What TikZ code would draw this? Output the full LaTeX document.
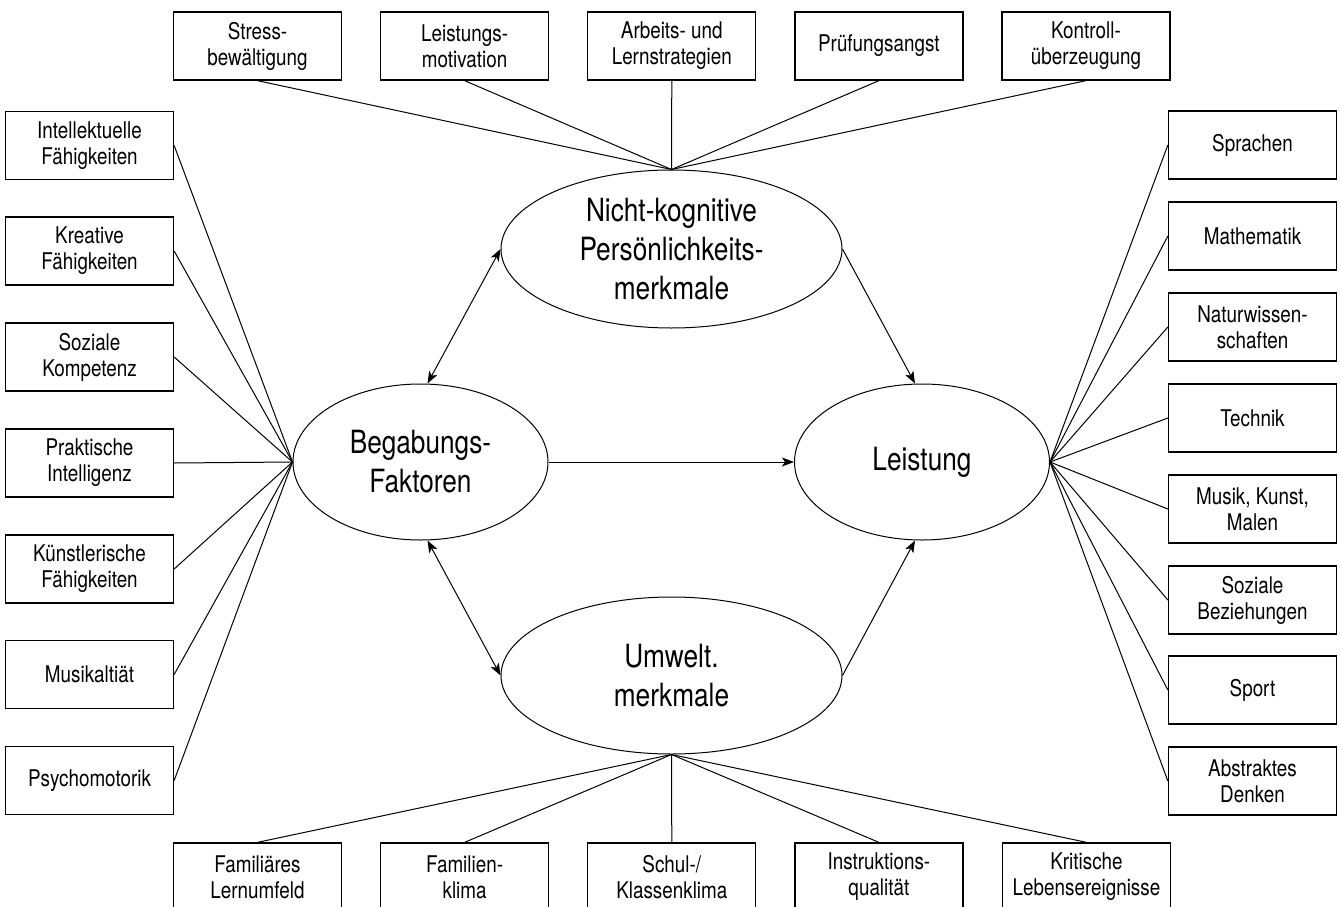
\documentclass[tikz,border=0pt]{standalone}
\usepackage{fontspec}
\setmainfont[FakeStretch=0.82]{TeX Gyre Heros}
\usetikzlibrary{shapes.geometric,arrows.meta}
\begin{document}
\begin{tikzpicture}[x=1pt,y=-1pt,
        box/.style={draw,line width=1.3pt,minimum width=168pt,minimum height=68pt,inner sep=0pt,align=center,font=\fontsize{23}{26}\selectfont},
        oval/.style={draw,ellipse,line width=1pt,inner sep=0pt,align=center,font=\fontsize{32}{39}\selectfont},
        link/.style={line width=1pt},
        pfeil/.style={line width=1pt,-{Stealth[length=12pt,width=9pt,inset=3pt]}},
        doppelpfeil/.style={line width=1pt,{Stealth[length=12pt,width=9pt,inset=3pt]}-{Stealth[length=12pt,width=9pt,inset=3pt]}}]
    \path[use as bounding box,fill=white] (0,0) rectangle (1341,907);
    \node[oval,minimum width=341pt,minimum height=158pt] (nk) at (671.5,249) {Nicht-kognitive\\Persönlichkeits-\\merkmale};
    \node[oval,minimum width=255pt,minimum height=156pt] (beg) at (420.5,462) {Begabungs-\\Faktoren};
    \node[oval,minimum width=255pt,minimum height=156pt] (leist) at (922,462) {Leistung};
    \node[oval,minimum width=341pt,minimum height=157pt] (umw) at (671.5,675.5) {Umwelt.\\merkmale};
    % Persoenlichkeit (oben)
    \foreach \n/\x/\txt in {t1/257.5/{Stress-\\bewältigung}, t2/464.6/{Leistungs-\\motivation}, t3/671.8/{Arbeits- und\\Lernstrategien}, t4/878.9/{Prüfungsangst}, t5/1086/{Kontroll-\\überzeugung}} {
        \node[box] (\n) at (\x,46) {\txt};
        \draw[link] (\n.south) -- (nk.north);
    }
    % Begabung (links)
    \foreach \n/\y/\txt in {l1/145.5/{Intellektuelle\\Fähigkeiten}, l2/251/{Kreative\\Fähigkeiten}, l3/357/{Soziale\\Kompetenz}, l4/463/{Praktische\\Intelligenz}, l5/569/{Künstlerische\\Fähigkeiten}, l6/674.5/{Musikaltiät}, l7/780.5/{Psychomotorik}} {
        \node[box] (\n) at (89.5,\y) {\txt};
        \draw[link] (\n.east) -- (beg.west);
    }
    % Leistung (rechts)
    \foreach \n/\y/\txt in {r1/145/{Sprachen}, r2/236/{Mathematik}, r3/327/{Naturwissen-\\schaften}, r4/418/{Technik}, r5/509/{Musik, Kunst,\\Malen}, r6/600/{Soziale\\Beziehungen}, r7/690/{Sport}, r8/781/{Abstraktes\\Denken}} {
        \node[box] (\n) at (1252.5,\y) {\txt};
        \draw[link] (\n.west) -- (leist.east);
    }
    % Umwelt (unten)
    \foreach \n/\x/\txt in {b1/257.5/{Familiäres\\Lernumfeld}, b2/464.6/{Familien-\\klima}, b3/671.8/{Schul-/\\Klassenklima}, b4/878.9/{Instruktions-\\qualität}, b5/1086.5/{Kritische\\Lebensereignisse}} {
        \node[box] (\n) at (\x,877) {\txt};
        \draw[link] (\n.north) -- (umw.south);
    }
    \draw[doppelpfeil] ([xshift=7pt]beg.north) -- (nk.west);
    \draw[doppelpfeil] ([xshift=7pt]beg.south) -- (umw.west);
    \draw[pfeil] (nk.east) -- ([xshift=-7pt]leist.north);
    \draw[pfeil] (umw.east) -- ([xshift=-7pt]leist.south);
    \draw[pfeil] (beg.east) -- (leist.west);
\end{tikzpicture}
\end{document}
